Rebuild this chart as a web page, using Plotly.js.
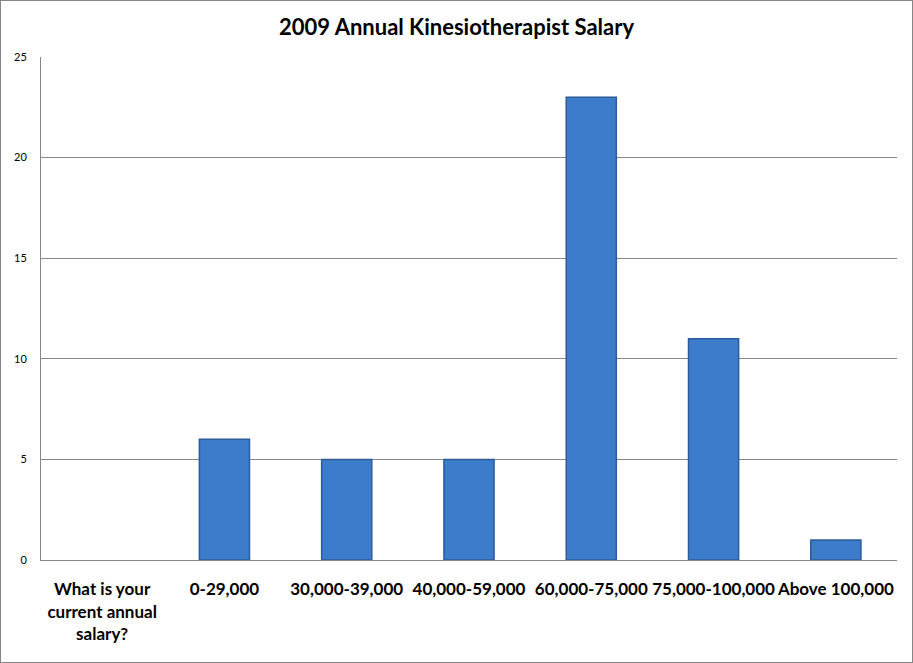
<!DOCTYPE html>
<html>
<head>
<meta charset="utf-8">
<script src="https://cdn.plot.ly/plotly-3.0.1.min.js"></script>
<style>
html,body{margin:0;padding:0;background:#fff;}
#chart{width:911px;height:661px;border:1px solid #868686;}
</style>
</head>
<body>
<div id="chart"></div>
<script>
const categories = ["What is your<br>current annual<br>salary?", "0-29,000", "30,000-39,000", "40,000-59,000", "60,000-75,000", "75,000-100,000", "Above 100,000"];
const counts = [null, 6, 5, 5, 23, 11, 1];
const yTicks = [0, 5, 10, 15, 20, 25];

const trace = {
  type: 'bar',
  x: categories,
  y: counts,
  marker: {
    color: '#3D7BCB',
    line: {color: '#2D5C9A', width: 1.5}
  },
  hoverinfo: 'x+y'
};

const layout = {
  width: 911,
  height: 661,
  margin: {l: 40, r: 15, t: 56, b: 102},
  paper_bgcolor: '#ffffff',
  plot_bgcolor: '#ffffff',
  bargap: 0.59,
  showlegend: false,
  font: {family: 'Lato, "Open Sans", sans-serif', color: '#000'},
  title: {
    text: '<b>2009 Annual Kinesiotherapist Salary</b>',
    font: {size: 22, family: 'Lato, "Open Sans", sans-serif', color: '#000'},
    x: 0.5, xanchor: 'center', y: 0.96, yanchor: 'middle'
  },
  xaxis: {
    type: 'category',
    showgrid: false,
    showline: true,
    linecolor: '#868686',
    linewidth: 1,
    ticks: '',
    tickfont: {size: 17, family: 'Lato, "Open Sans", sans-serif', color: '#000', weight: 'bold'},
    ticklabelstandoff: 14,
    fixedrange: true
  },
  yaxis: {
    range: [0, 25],
    tickvals: yTicks,
    ticktext: yTicks.map(String),
    showgrid: true,
    gridcolor: '#868686',
    gridwidth: 1,
    showline: true,
    linecolor: '#868686',
    linewidth: 1,
    zeroline: false,
    ticks: '',
    tickfont: {size: 11, family: 'Lato, "Open Sans", sans-serif', color: '#000'},
    ticklabelstandoff: 11,
    fixedrange: true
  }
};

Plotly.newPlot('chart', [trace], layout, {displayModeBar: false});
</script>
</body>
</html>
